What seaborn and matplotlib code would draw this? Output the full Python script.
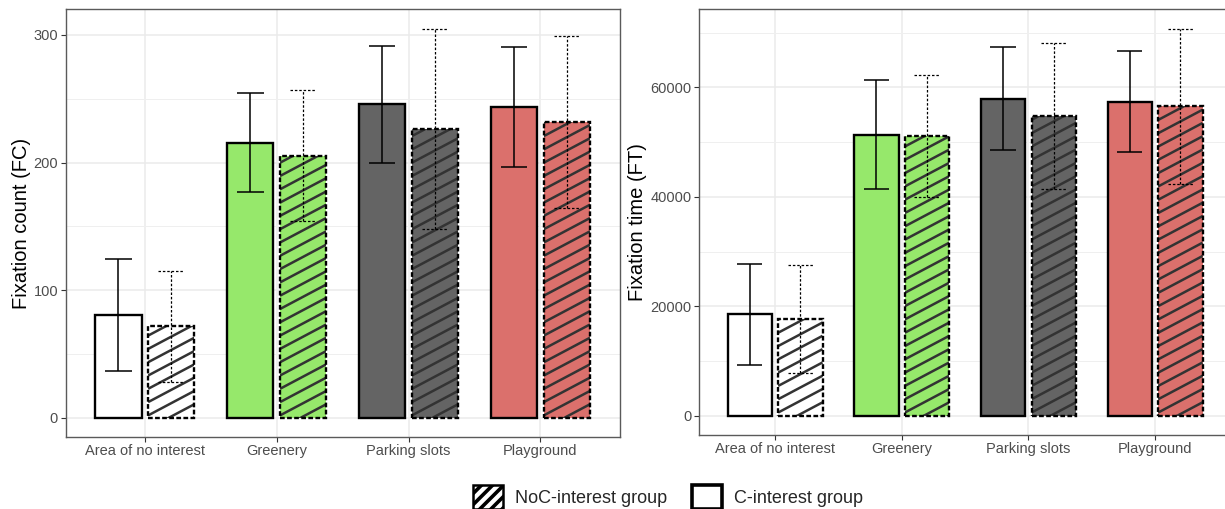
import numpy as np
import pandas as pd
import matplotlib
matplotlib.use("Agg")
import matplotlib.pyplot as plt
import matplotlib.transforms as mtransforms
import seaborn as sns
from matplotlib.patches import Rectangle, Patch
from matplotlib.collections import LineCollection
from matplotlib.ticker import MultipleLocator

# ---------------- data ----------------
areas = ["Area of no interest", "Greenery", "Parking slots", "Playground"]
groups = ["C-interest group", "NoC-interest group"]
area_colors = ["#FFFFFF", "#96E86B", "#646464", "#DB706C"]

fc_c_mean = [80.6, 215.5, 245.5, 243.4]
fc_c_sd = [43.7, 38.9, 46.0, 47.0]
fc_noc_mean = [71.5, 205.3, 226.2, 231.9]
fc_noc_sd = [43.7, 51.2, 78.7, 67.6]

ft_c_mean = [18500, 51360, 57930, 57380]
ft_c_sd = [9250, 9920, 9430, 9250]
ft_noc_mean = [17650, 51110, 54830, 56530]
ft_noc_sd = [9920, 11200, 13330, 14200]

ylabels = ["Fixation count (FC)", "Fixation time (FT)"]
legend_labels = ["NoC-interest group", "C-interest group"]

# ---------------- style ----------------
sns.set_style("white")
plt.rcParams["font.family"] = ["Liberation Sans", "DejaVu Sans"]
plt.rcParams["hatch.linewidth"] = 2.6

W, H, DPI = 1225, 509, 100
fig = plt.figure(figsize=(W / DPI, H / DPI), dpi=DPI)

ax1 = fig.add_axes([65.7 / W, 1 - 437 / H, 553.9 / W, 427.7 / H])
ax2 = fig.add_axes([699 / W, 1 - 435 / H, 532 / W, 425.7 / H])

HATCH_COLOR = "#333333"
HATCH_SLOPE = 0.53
HATCH_SPACING = 13.3  # pixels (vertical)


def draw_panel(ax, c_mean, c_sd, noc_mean, noc_sd, ylabel, major, minor, labelpad):
    df = pd.DataFrame({
        "area": areas * 2,
        "group": [groups[0]] * len(areas) + [groups[1]] * len(areas),
        "mean": c_mean + noc_mean,
        "sd": c_sd + noc_sd,
    })
    sns.barplot(data=df, x="area", y="mean", hue="group", order=areas,
                hue_order=groups, errorbar=None, width=0.8, gap=0.125,
                legend=False, ax=ax, zorder=2)

    top = max(m + s for m, s in zip(df["mean"], df["sd"]))
    ax.set_ylim(-0.05 * top, 1.05 * top)
    ax.set_xlim(-0.6, len(areas) - 0.4)

    c_bars, noc_bars = ax.containers[0], ax.containers[1]
    for bar, col in zip(c_bars, area_colors):
        bar.set_facecolor(col)
        bar.set_edgecolor("black")
        bar.set_linewidth(1.7)

    for bar, col in zip(noc_bars, area_colors):
        bar.set_facecolor(col)
        bar.set_edgecolor("none")
        bar.set_linewidth(0)
        x0, y0 = ax.transData.transform((bar.get_x(), bar.get_y()))
        x1, y1 = ax.transData.transform((bar.get_x() + bar.get_width(),
                                         bar.get_y() + bar.get_height()))
        w = x1 - x0
        segs = []
        k = y0 - HATCH_SLOPE * w
        while k < y1:
            segs.append([(x0, k), (x1, k + HATCH_SLOPE * w)])
            k += HATCH_SPACING
        lc = LineCollection(segs, colors=HATCH_COLOR, linewidths=1.8,
                            transform=mtransforms.IdentityTransform(), zorder=2.1)
        ax.add_collection(lc, autolim=False)
        lc.set_clip_path(bar)
        ax.add_patch(Rectangle((bar.get_x(), bar.get_y()), bar.get_width(),
                               bar.get_height(), fill=False, edgecolor="black",
                               linewidth=1.7, linestyle=(0, (2, 1)), zorder=2.2))

    # error bars (mean +- sd)
    for bars, means, sds, ls, lw in [
        (c_bars, c_mean, c_sd, "solid", 1.1),
        (noc_bars, noc_mean, noc_sd, (0, (2, 1.5)), 0.9),
    ]:
        centers = [b.get_x() + b.get_width() / 2 for b in bars]
        lo = [m - s for m, s in zip(means, sds)]
        hi = [m + s for m, s in zip(means, sds)]
        ax.vlines(centers, lo, hi, colors="black", linestyles=ls, linewidth=lw, zorder=3)
        ax.hlines(lo, [c - 0.1 for c in centers], [c + 0.1 for c in centers],
                  colors="black", linestyles=ls, linewidth=lw, zorder=3)
        ax.hlines(hi, [c - 0.1 for c in centers], [c + 0.1 for c in centers],
                  colors="black", linestyles=ls, linewidth=lw, zorder=3)

    ax.set_ylim(-0.05 * top, 1.05 * top)
    ax.set_xlim(-0.6, len(areas) - 0.4)

    ax.yaxis.set_major_locator(MultipleLocator(major))
    ax.yaxis.set_minor_locator(MultipleLocator(minor))
    ax.set_axisbelow(True)
    ax.grid(which="major", axis="both", color="#EBEBEB", linewidth=1.1, zorder=0)
    ax.grid(which="minor", axis="y", color="#EFEFEF", linewidth=0.7, zorder=0)
    ax.tick_params(which="major", length=3.5, width=0.8, color="#333333",
                   labelcolor="#4D4D4D", labelsize=10.5, pad=2,
                   bottom=True, left=True)
    ax.tick_params(axis="x", which="major", pad=1.5)
    ax.tick_params(which="minor", length=0)
    for sp in ax.spines.values():
        sp.set_visible(True)
        sp.set_color("#5A5A5A")
        sp.set_linewidth(1.0)
    ax.set_xlabel("")
    ax.set_ylabel(ylabel, fontsize=14.5, color="black", labelpad=labelpad)


draw_panel(ax1, fc_c_mean, fc_c_sd, fc_noc_mean, fc_noc_sd, ylabels[0], 100, 50, 2)
draw_panel(ax2, ft_c_mean, ft_c_sd, ft_noc_mean, ft_noc_sd, ylabels[1], 20000, 10000, 2)

h_noc = Patch(facecolor="white", edgecolor="black", hatch="///", linewidth=1.8)
h_c = Patch(facecolor="white", edgecolor="black", linewidth=2.6)
fig.legend([h_noc, h_c], legend_labels, loc="center",
           bbox_to_anchor=(668 / W, 1 - 497 / H), ncol=2, frameon=False,
           fontsize=13, handlelength=1.67, handleheight=1.67,
           handletextpad=0.67, columnspacing=1.4, borderpad=0, borderaxespad=0)

fig.savefig("out.png", dpi=DPI)
